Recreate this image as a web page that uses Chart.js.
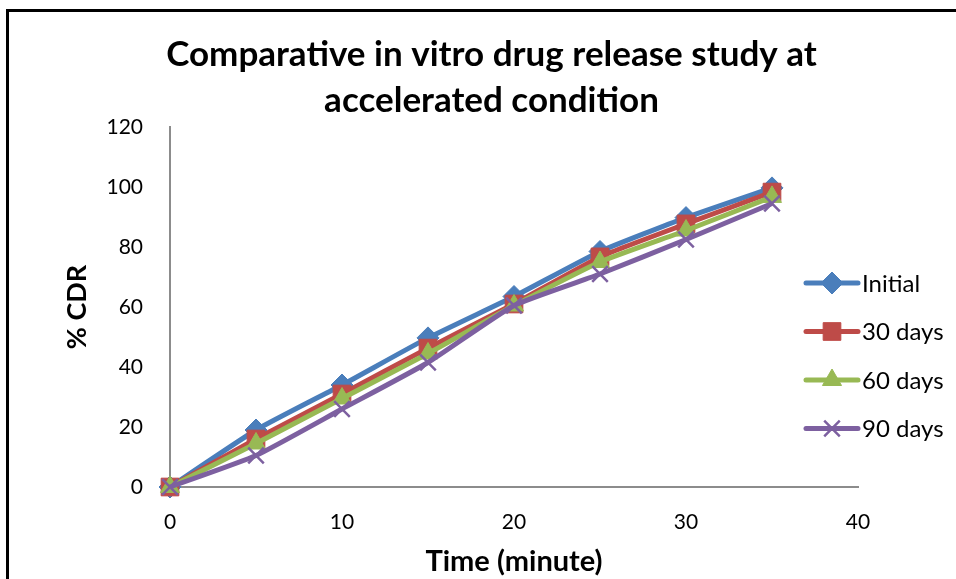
<!DOCTYPE html>
<html>
<head>
<meta charset="utf-8">
<script src="https://cdn.jsdelivr.net/npm/chart.js@4"></script>
<style>
  html, body { margin: 0; padding: 0; background: #fff; }
</style>
</head>
<body>
<canvas id="releaseChart" width="956" height="579"></canvas>
<script>
// values
const timeMinutes = [0, 5, 10, 15, 20, 25, 30, 35];
const initialCdr = [0, 19, 34, 49.7, 63.5, 78.5, 89.8, 99.7];
const days30Cdr = [0, 16, 31, 46.3, 61, 76.7, 87.7, 98.3];
const days60Cdr = [0, 14.5, 29.5, 44.5, 60.5, 75, 85.5, 96.7];
const days90Cdr = [0, 10.5, 26, 41.5, 60.5, 71, 82.5, 94.5];
const seriesNames = ['Initial', '30 days', '60 days', '90 days'];
const xTickValues = [0, 10, 20, 30, 40];
const yTickValues = [0, 20, 40, 60, 80, 100, 120];

const fontFamily = 'Lato, Carlito, "Open Sans", sans-serif';

function toPoints(values) {
    return timeMinutes.map((t, i) => ({ x: t, y: values[i] }));
}

function makeSeries(label, values, color, pointStyle, radius, order) {
    return {
        label: label,
        data: toPoints(values),
        borderColor: color,
        backgroundColor: color,
        borderWidth: 5,
        tension: 0.15,
        clip: false,
        pointStyle: pointStyle,
        pointRadius: radius,
        pointHoverRadius: radius,
        pointBorderWidth: pointStyle === 'crossRot' ? 2.5 : 1,
        pointBorderColor: color,
        pointBackgroundColor: color,
        order: order
    };
}

// frame around the whole chart
const framePlugin = {
    id: 'frame',
    beforeDraw(chart) {
        const ctx = chart.ctx;
        ctx.save();
        ctx.fillStyle = '#ffffff';
        ctx.fillRect(0, 0, chart.width, chart.height);
        ctx.strokeStyle = '#000000';
        ctx.lineWidth = 3;
        ctx.strokeRect(7.5, 10.5, chart.width + 20, chart.height + 20);
        ctx.restore();
    }
};

// Excel-style legend: line with marker, then the name
const lineLegendPlugin = {
    id: 'lineLegend',
    afterDraw(chart) {
        const ctx = chart.ctx;
        const ca = chart.chartArea;
        ctx.save();
        chart.data.datasets.forEach((ds, i) => {
            const y = ca.top + 156 + i * 48.5;
            ctx.strokeStyle = ds.borderColor;
            ctx.lineWidth = 5;
            ctx.lineCap = 'round';
            ctx.beginPath();
            ctx.moveTo(ca.right - 52, y);
            ctx.lineTo(ca.right, y);
            ctx.stroke();

            ctx.fillStyle = ds.pointBackgroundColor;
            ctx.strokeStyle = ds.pointBorderColor;
            ctx.lineWidth = ds.pointBorderWidth;
            ctx.lineCap = 'butt';
            Chart.helpers.drawPoint(ctx, {
                pointStyle: ds.pointStyle,
                radius: ds.pointRadius,
                rotation: 0,
                borderWidth: ds.pointBorderWidth
            }, ca.right - 26, y);

            ctx.fillStyle = '#000000';
            ctx.font = '24px ' + fontFamily;
            ctx.textAlign = 'left';
            ctx.textBaseline = 'middle';
            ctx.fillText(ds.label, ca.right + 4, y + 1);
        });
        ctx.restore();
    }
};

new Chart(document.getElementById('releaseChart'), {
    type: 'line',
    data: {
        datasets: [
            makeSeries(seriesNames[0], initialCdr, '#4a7ebb', 'rectRot', 11, 4),
            makeSeries(seriesNames[1], days30Cdr, '#be4b48', 'rect', 12.5, 3),
            makeSeries(seriesNames[2], days60Cdr, '#98b954', 'triangle', 11, 2),
            makeSeries(seriesNames[3], days90Cdr, '#7d60a0', 'crossRot', 11, 1)
        ]
    },
    options: {
        responsive: false,
        animation: false,
        layout: { padding: { left: 27, right: 0, top: 0, bottom: 0 } },
        plugins: {
            legend: { display: false },
            tooltip: { enabled: false },
            title: {
                display: true,
                text: ['Comparative in vitro drug release study at', 'accelerated condition'],
                color: '#000000',
                font: { family: fontFamily, size: 35, weight: 'bold', lineHeight: 1.3 },
                padding: { top: 32, bottom: 4 }
            }
        },
        scales: {
            x: {
                type: 'linear',
                min: 0,
                max: 40,
                afterBuildTicks: s => { s.ticks = xTickValues.map(v => ({ value: v })); },
                afterFit: s => { s.height = 92; },
                grid: { display: false, drawTicks: false },
                border: { color: '#8c8c8c', width: 2 },
                ticks: {
                    color: '#000000',
                    padding: 23,
                    font: { family: fontFamily, size: 21 }
                },
                title: {
                    display: true,
                    text: 'Time (minute)',
                    color: '#000000',
                    font: { family: fontFamily, size: 29, weight: 'bold', lineHeight: 1.2 },
                    padding: { top: 0, bottom: 0 }
                }
            },
            y: {
                type: 'linear',
                min: 0,
                max: 120,
                afterBuildTicks: s => { s.ticks = yTickValues.map(v => ({ value: v })); },
                afterFit: s => { s.width = 143; },
                grid: { display: false, drawTicks: false },
                border: { color: '#8c8c8c', width: 2 },
                ticks: {
                    color: '#000000',
                    padding: 27,
                    font: { family: fontFamily, size: 21 }
                },
                title: {
                    display: true,
                    text: '% CDR',
                    color: '#000000',
                    font: { family: fontFamily, size: 27, weight: 'bold', lineHeight: 1.2 },
                    padding: { top: 34, bottom: 0 }
                }
            },
            // empty axis that only reserves room for the legend on the right
            spacer: {
                type: 'linear',
                position: 'right',
                afterFit: s => { s.width = 98; },
                grid: { display: false, drawTicks: false },
                border: { display: false },
                ticks: { display: false }
            }
        }
    },
    plugins: [framePlugin, lineLegendPlugin]
});
</script>
</body>
</html>
